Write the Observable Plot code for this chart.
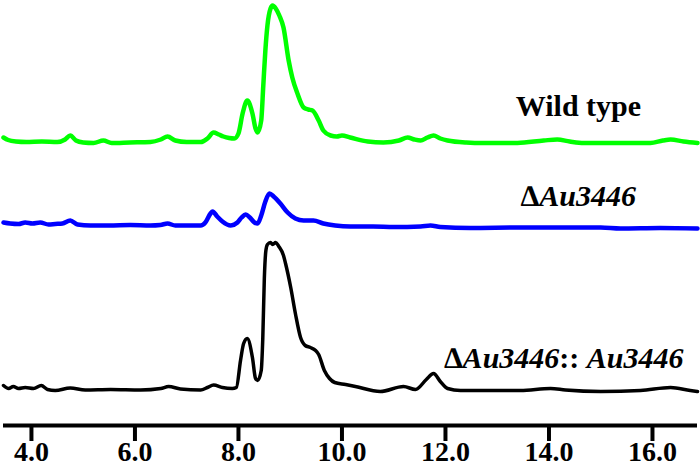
<!DOCTYPE html>
<html>
<head>
<meta charset="utf-8">
<script src="https://cdn.jsdelivr.net/npm/d3@7"></script>
<script src="https://cdn.jsdelivr.net/npm/@observablehq/plot@0.6"></script>
<style>
  html, body { margin: 0; padding: 0; background: #fff; }
  #chart svg { display: block; }
</style>
</head>
<body>
<div id="chart"></div>
<script>
// Retention time (min) and relative signal above each trace's baseline
const seriesNames = ["Wild type", "\u2206Au3446", "\u2206Au3446:: Au3446"];
const seriesColors = ["#00ff00", "#0000ff", "#000000"];
const xTicks = [4, 6, 8, 10, 12, 14, 16];

const wildType = [
  [3.46,3],[3.55,0.5],[3.7,-1],[3.9,-1.5],[4.2,-1],[4.5,-1.5],[4.65,1],[4.75,5],[4.86,0],[5.0,-2],
  [5.2,-2.5],[5.39,0],[5.55,-2.5],[5.9,-2],[6.3,-1.5],[6.5,1],[6.63,4],[6.78,0],[7.0,-1.5],[7.27,-1.5],
  [7.4,2],[7.52,8],[7.62,6],[7.71,4],[7.82,2.5],[7.92,2],[8.0,7],[8.08,27],[8.17,40],[8.27,27],
  [8.33,12],[8.37,8],[8.44,20],[8.48,55],[8.52,90],[8.56,115],[8.62,132],[8.66,135],[8.72,132],[8.79,125],
  [8.87,113],[8.97,80],[9.04,63],[9.14,47],[9.26,33],[9.35,31],[9.43,30],[9.55,20],[9.64,10],[9.78,5],
  [9.9,4],[10.0,5],[10.16,3],[10.5,-1],[10.8,-2],[11.1,0],[11.27,3],[11.4,1],[11.52,0],[11.65,3],
  [11.77,5],[11.9,2],[12.04,0],[12.4,-2],[12.73,-2.5],[13.39,-2.5],[13.9,0],[14.16,1],[14.4,-1],[14.67,-2.5],
  [15.4,-2.5],[15.96,-2.5],[16.2,0],[16.35,1],[16.6,-1],[16.87,-2.5]
];

const deltaAu3446 = [
  [3.46,3],[3.59,2],[3.75,1.5],[3.88,3],[4.02,2],[4.17,3],[4.33,1],[4.46,1.5],[4.6,2],[4.75,5],
  [4.89,1],[5.14,0],[5.5,0],[5.91,0.5],[6.3,0],[6.49,0.5],[6.63,2],[6.78,0],[7.0,0],[7.27,0],
  [7.36,3],[7.46,12],[7.5,14],[7.59,9],[7.69,4],[7.85,0],[7.98,3],[8.06,8],[8.14,11],[8.22,8],
  [8.31,3],[8.37,2],[8.44,10],[8.52,24],[8.6,32],[8.68,29],[8.81,22],[8.95,13],[9.1,7],[9.26,5],
  [9.45,5],[9.64,2],[9.87,0],[10.16,-1],[10.6,-1],[11.0,-1.5],[11.52,-1],[11.71,0],[11.9,-1.5],[12.48,-2.5],
  [13.45,-2],[14.0,-2],[15.0,-2],[15.38,-3],[16.15,-2.5],[16.87,-3]
];

const complemented = [
  [3.46,3],[3.56,0],[3.65,2],[3.75,0],[3.88,1],[4.04,0],[4.19,3],[4.31,-1],[4.46,-2],[4.75,0.5],
  [5.04,-1.5],[5.53,-1],[6.11,-1.5],[6.5,0],[6.65,2],[6.88,-0.5],[7.27,-1.5],[7.4,1],[7.52,3.5],[7.69,1],
  [7.88,0],[7.96,1],[8.04,28],[8.1,45],[8.17,50],[8.27,31],[8.33,10],[8.37,8],[8.44,18],[8.47,50],
  [8.5,110],[8.53,138],[8.56,144],[8.62,146],[8.66,144],[8.72,146],[8.78,142],[8.87,133],[8.91,125],[9.01,101],
  [9.1,75],[9.2,51],[9.29,43],[9.39,41],[9.49,38],[9.55,34],[9.66,18],[9.76,10],[9.86,6],[10.07,4],
  [10.26,2],[10.74,-3],[11.19,2],[11.42,-1],[11.63,9],[11.77,15],[11.9,7],[12.04,0],[12.29,-2],[13.45,-2],
  [14.03,0],[14.32,-1.5],[15.0,-3],[15.77,-2],[16.35,1],[16.73,-2],[16.87,-3]
];

// vertical stacking of the traces (layout)
const traces = [wildType, deltaAu3446, complemented];
const offsets = [285, 200, 37];
const widths = [4.5, 4.5, 3.5];
const serif = "Liberation Serif";

const lineMarks = traces.map((tr, i) =>
  Plot.line(tr, {
    x: d => d[0],
    y: d => d[1] + offsets[i],
    stroke: seriesColors[i],
    strokeWidth: widths[i],
    curve: "monotone-x",
    strokeLinejoin: "round",
    strokeLinecap: "round"
  })
);

// Label pieces: gene names italic, the rest upright; laid out right-to-left
const labelPos = [
  {x: 15.78, y: 319.6},
  {x: 15.68, y: 229.6},
  {x: 16.60, y: 67.6}
];
const pieceWidth = {"\u2206": 18.8, ":: ": 27.5, "Au3446": 96.7}; // px at 30px Liberation Serif Bold
const pieces = [];
seriesNames.forEach((name, i) => {
  const parts = name.split(/(Au3446)/).filter(p => p.length);
  let dx = 0;
  for (let k = parts.length - 1; k >= 0; k--) {
    const p = parts[k];
    pieces.push({text: p, italic: p === "Au3446", x: labelPos[i].x, y: labelPos[i].y, dx: -dx});
    dx += pieceWidth[p] || 0;
  }
});

const pieceMarks = pieces.map(p => Plot.text([p], {
  x: "x", y: "y", text: "text",
  dx: p.dx,
  textAnchor: "end",
  fontSize: 30,
  fontFamily: serif,
  fontWeight: "bold",
  fontStyle: p.italic ? "italic" : "normal",
  fill: "#000"
}));

const svg = Plot.plot({
  width: 700,
  height: 466,
  marginTop: 0,
  marginBottom: 41,
  marginLeft: 3,
  marginRight: 3,
  style: {fontFamily: serif, fontWeight: "bold", color: "#000", background: "#fff"},
  x: {domain: [3.46, 16.87]},
  y: {domain: [0, 425], axis: null},
  marks: [
    ...lineMarks,
    Plot.ruleY([0], {strokeWidth: 4, stroke: "#000"}),
    Plot.axisX({
      ticks: xTicks,
      tickFormat: d => d.toFixed(1),
      tickSize: 16,
      tickPadding: 0,
      strokeWidth: 4,
      fontSize: 28,
      fontFamily: serif,
      fontWeight: "bold",
      label: null
    }),
    ...pieceMarks
  ]
});

document.getElementById("chart").appendChild(svg);
</script>
</body>
</html>
